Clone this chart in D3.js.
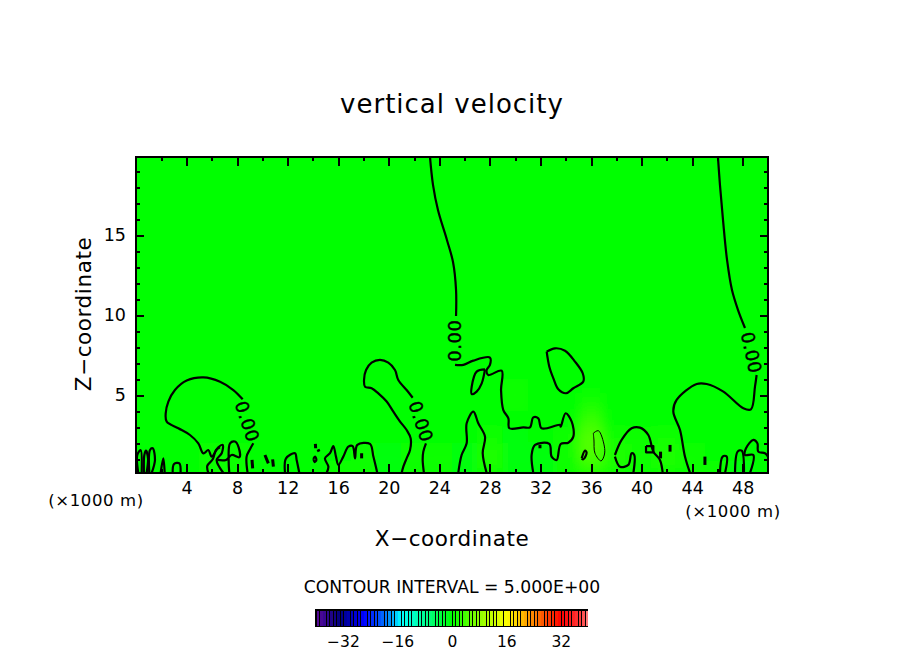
<!DOCTYPE html>
<html lang="en">
<head>
<meta charset="UTF-8">
<title>vertical velocity</title>
<script src="https://d3js.org/d3.v7.min.js"></script>
<style>
    body{ margin:0; background:#fff; }
    text{ font-family:"DejaVu Sans",sans-serif; fill:#000; }
    .contour{ fill:none; stroke:#000; stroke-width:2.2; stroke-linejoin:round; }
</style>
</head>
<body>
<div id="chart"></div>
<script>
// x in km, z in km
var xTicks = [4,8,12,16,20,24,28,32,36,40,44,48];
var xMinor = [2,6,10,14,18,22,26,30,34,38,42,46];
var zTicks = [5,10,15];
var zMinor = [1,2,3,4,6,7,8,9,11,12,13,14,16,17,18,19];
var barTicks = [-32,-16,0,16,32];

var fieldX = [0,2,4,6,8,10,12,14,16,18,20,22,24,26,28,30,32,34,36,38,40,42,44,46,48,50];
var fieldZ = [0.5,1.5,2.5,3.5,4.5,5.5];
var fieldW = [
    [0,0,0,0.7,0.7,0,0,0,0.7,0.7,-0.7,0.7,0.7,-0.7,1.5,-0.7,-1,0.5,3,1.5,0.7,1.5,0.7,0.7,-0.7,0],
    [0,0,0,0.7,0.7,0,0,0,0,0.7,-0.7,0.7,0.7,-0.7,1.5,-0.7,-0.7,0.7,4.5,1.5,0.7,1.5,0.7,0,0,0],
    [0,0,0,0,0,0,0,0,0,0,0,0,0,0,0.7,-0.5,0,0.7,4.5,0.7,0.7,0.7,0,0,0,0],
    [0,0,0,0,0,0,0,0,0,0,0,0,0,0,0,0,0,0,2.5,0,0,0,0,0,0,0],
    [0,0,0,0,0,0,0,0,0,0,0,0,0,0,0,0.7,0,0,1,0,0,0,0,0,0,0],
    [0,0,0,0,0,0,0,0,0,0,0,0,0,0,0,0.5,0,0,0,0,0,0,0,0,0,0]
];

// zero contour pieces
var contours = [
    [[23.26,19.87],[23.5,18.12],[23.89,16.56],[24.6,14.69],[25.08,13.31],[25.32,11.56],[25.32,9.94]],
    [[46.04,19.87],[46.2,18.12],[46.44,15.94],[46.76,13.44],[47.15,11.56],[47.63,10.31],[48.18,9.19]],
    [[8.44,4.73],[7.7,5.31],[6.65,5.83],[5.33,6.1],[4.01,5.9],[3.08,5.31],[2.56,4.58],[2.35,3.85],[2.43,3.33],[3.35,2.92],[4.27,2.5],[4.93,1.98],[5.33,1.35],[5.72,1.56],[5.99,1.15],[6.51,1.73],[6.86,1.88],[6.78,1.36],[6.38,0.94],[6.91,0.13]],
    [[21.89,4.83],[21.41,5.31],[20.75,5.94],[20.49,6.56],[19.96,7.02],[19.3,7.19],[18.64,7.02],[18.2,6.56],[18.04,5.94],[18.12,5.52],[18.64,5.42],[19.17,5.1],[19.83,4.59],[20.36,3.96],[20.89,3.34],[21.41,2.81],[21.73,2.29],[21.68,1.56],[21.41,1.04],[21.15,0.52],[21.02,0.13]],
    [[22.94,1.98],[22.73,1.46],[22.68,0.94],[22.78,0.13]],
    [[0.18,0.13],[0.1,1.25],[0.37,1.56],[0.45,0.13]],
    [[0.63,0.13],[0.66,1.25],[0.79,1.52],[0.95,1.04],[0.84,0.13]],
    [[1.05,0.13],[1.11,1.56],[1.32,1.67],[1.5,0.94],[1.24,0.13]],
    [[1.95,0.13],[2.16,1.04],[2.27,0.13]],
    [[2.9,0.13],[3.01,0.69],[3.43,0.73],[3.53,0.13]],
    [[5.72,0.13],[5.64,0.57],[6.07,0.98],[6.33,1.56],[6.65,1.73]],
    [[6.44,0.94],[7.12,0.94],[7.57,1.25],[8.18,1.11],[8.12,1.73],[7.83,2.09],[7.44,1.98],[7.33,0.94],[7.38,0.13]],
    [[8.83,0.13],[8.75,1.15],[9.02,1.61],[9.28,1.98]],
    [[9.18,0.94],[9.23,0.42]],
    [[10.2,1.25],[10.47,0.73]],
    [[10.81,0.98],[10.87,0.52]],
    [[11.79,0.13],[11.87,1.04],[12.58,1.36],[12.71,0.94],[12.92,0.13]],
    [[14.19,1.94],[14.21,1.67]],
    [[14.4,1.6],[14.48,1.46]],
    [[14.03,1],[14.16,1.15],[14.27,0.94],[14.13,0.81],[14.03,1]],
    [[15.08,0.13],[15.22,0.52],[14.95,1.04],[15.35,1.36],[15.61,1.81],[15.82,1.15],[16.01,0.63],[16.4,1.15],[16.8,1.77],[17.14,1.81],[17.33,1.04],[17.51,1.88],[18.51,1.94],[18.78,1.15],[19.09,0.13]],
    [[17.85,1.36],[17.85,1.04]],
    [[25.5,0.15],[25.76,1.25],[26.16,1.98],[26.16,3.23],[26.69,3.96],[27.08,3.23],[27.61,2.4],[27.43,1.36],[27.74,0.13]],
    [[25.24,6.88],[25.9,6.88],[26.69,7.15],[28,7.34],[28,6.88],[27.74,6.56],[27.87,6.25],[28.93,6.52],[28.88,5.31],[29.06,4.06],[29.46,3.54],[29.54,2.92],[30.64,2.98],[31.17,2.98],[31.43,3.6],[31.83,3.54],[32.09,2.92],[33.54,3.13],[33.6,3.02],[33.99,3.86],[34.47,3.34],[34.6,2.4],[34.2,2.02],[33.6,1.94],[33.28,0.94],[32.88,1.15],[32.7,1.94],[31.57,1.88],[31.3,1.25],[31.43,0.13]],
    [[27.61,6.6],[26.95,6.46],[26.56,5.52],[26.56,5.06],[26.95,5.21],[27.35,5.73],[27.61,6.6]],
    [[32.49,7.71],[33.15,7.92],[33.94,7.77],[34.73,7.09],[35.34,6.36],[35.39,5.84],[34.6,5.42],[34.02,5.11],[33.41,5.36],[33.02,6.04],[32.7,6.77],[32.49,7.71]],
    [[35.26,1.04],[35.52,1.52],[35.65,1.4],[35.39,0.98],[35.26,1.04]],
    [[37.89,1.25],[38.42,2.19],[39.21,2.92],[39.87,2.96],[40.53,2.5],[40.93,1.46],[41.45,0.94],[41.67,0.13]],
    [[37.89,1.15],[38.29,0.52],[38.95,0.63],[39.21,1.36],[39.42,1.25],[39.35,0.13]],
    [[42.25,1.88],[42.25,1.46]],
    [[41.5,1.46],[41.5,1.04]],
    [[45.01,1.15],[45.01,0.63]],
    [[31.96,1.88],[31.96,1.67]],
    [[43.83,0.13],[43.43,1.15],[43.04,2.81],[42.51,3.96],[42.77,4.69],[44.36,5.69],[45.15,5.69],[46.47,5.21],[48.05,4.17],[48.65,4.1],[48.97,5.52],[49.1,6.25]],
    [[46.2,0.13],[46.41,1.15],[46.73,1.15],[46.6,0.13]],
    [[47.39,0.13],[47.6,1.46],[47.92,1.52],[48.1,0.13]],
    [[48.58,0.13],[48.84,1.25],[48.18,1.25],[48.26,1.67],[48.84,2.19],[49.16,1.98],[49.23,1.46],[49.76,1.36],[50,1.15]]
];
// small square near x=40.6, kept straight
var contoursSquare = [
    [[40.35,1.81],[40.93,1.81],[40.93,1.42],[40.35,1.42],[40.35,1.81]]
];
// the one thin positive contour
var contoursPos = [
    [[36.18,2.61],[36.58,2.77],[37.05,1.81],[37.05,1.25],[36.79,0.88],[36.31,1.36],[36.23,2.19],[36.18,2.61]]
];
// where the 0.00 labels sit on the line: x, z, angle
var lineLabels = [
    [8.8,3.35,72],
    [22.55,3.35,72],
    [25.2,8.4,-90],
    [48.7,7.65,78]
];

var stopValues = [-40,-33,-26,-19,-15,-8,0,7,16,23,32,38,40];
var stopColors = ["#5a0a9a","#000080","#0000ff","#0080ff","#00ffff","#00ff90","#00ff00","#80ff00","#ffff00","#ff9000","#ff0000","#ff4040","#ff9090"];
var barValues = d3.range(-40,40);

var width = 904, height = 654;
var left = 136, right = 768, top_ = 157, bottom = 473;

var svg = d3.select("#chart").append("svg")
    .attr("width", width)
    .attr("height", height)
    .style("display","block");

var x = d3.scaleLinear().domain([0,50]).range([left,right]);
var z = d3.scaleLinear().domain([0.125,19.875]).range([bottom,top_]);
var color = d3.scaleLinear().domain(stopValues).range(stopColors);

var defs = svg.append("defs");
defs.append("clipPath").attr("id","plotClip").append("rect")
    .attr("x",left).attr("y",top_).attr("width",right-left).attr("height",bottom-top_);
defs.append("filter").attr("id","soft")
    .attr("x",-0.1).attr("y",-0.3).attr("width",1.2).attr("height",1.6)
    .append("feGaussianBlur").attr("stdDeviation","6 10");

// shading
svg.append("rect").attr("x",left).attr("y",top_).attr("width",right-left).attr("height",bottom-top_)
    .attr("fill",color(0));
var cells = [];
fieldW.forEach(function(row,j){
    row.forEach(function(w,i){
        if(w!=0) cells.push({x:fieldX[i],z:fieldZ[j],w:w});
    });
});
svg.append("g").attr("clip-path","url(#plotClip)")
    .append("g").attr("filter","url(#soft)")
    .selectAll("rect").data(cells).enter().append("rect")
    .attr("x",function(d){ return x(d.x-1); })
    .attr("y",function(d){ return z(d.z+0.5); })
    .attr("width",x(2)-x(0))
    .attr("height",z(0)-z(1))
    .attr("fill",function(d){ return color(d.w); });

// contours
var line = d3.line().x(function(d){ return x(d[0]); }).y(function(d){ return z(d[1]); });
var smooth = d3.line().x(function(d){ return x(d[0]); }).y(function(d){ return z(d[1]); })
    .curve(d3.curveCatmullRom.alpha(0.5));
var plot = svg.append("g").attr("clip-path","url(#plotClip)");
plot.selectAll(".c0").data(contours).enter().append("path")
    .attr("class","contour").attr("d",smooth)
    .style("stroke-width",function(d){ return d.length==2 ? 3 : null; });
plot.selectAll(".c2").data(contoursSquare).enter().append("path")
    .attr("class","contour").attr("d",line);
plot.selectAll(".c1").data(contoursPos).enter().append("path")
    .attr("class","contour").attr("d",smooth).style("stroke-width",1);

svg.selectAll(".lineLabel").data(lineLabels).enter().append("text")
    .attr("class","lineLabel")
    .attr("transform",function(d){ return "translate("+x(d[0])+","+z(d[1])+") rotate("+d[2]+")"; })
    .attr("text-anchor","middle").attr("dy","0.36em")
    .style("font-size","18px").style("letter-spacing","0.5px")
    .style("stroke","#000").style("stroke-width",0.4)
    .text("0.00");

// ticks on all four sides, pointing in
function styleAxis(g){
    g.select(".domain").remove();
    g.selectAll("line").attr("stroke","#000").attr("stroke-width",2).style("shape-rendering","crispEdges");
    g.selectAll("text").style("font-size","17.5px");
}
function noLabel(a){ return a.tickFormat(""); }

svg.append("g").attr("transform","translate(0,"+bottom+")")
    .call(d3.axisBottom(x).tickValues(xTicks).tickSizeInner(-9).tickSizeOuter(0).tickPadding(9)).call(styleAxis);
svg.append("g").attr("transform","translate(0,"+bottom+")")
    .call(noLabel(d3.axisBottom(x).tickValues(xMinor).tickSizeInner(-4).tickSizeOuter(0))).call(styleAxis);
svg.append("g").attr("transform","translate(0,"+top_+")")
    .call(noLabel(d3.axisTop(x).tickValues(xTicks).tickSizeInner(-9).tickSizeOuter(0))).call(styleAxis);
svg.append("g").attr("transform","translate(0,"+top_+")")
    .call(noLabel(d3.axisTop(x).tickValues(xMinor).tickSizeInner(-4).tickSizeOuter(0))).call(styleAxis);
svg.append("g").attr("transform","translate("+left+",0)")
    .call(d3.axisLeft(z).tickValues(zTicks).tickSizeInner(-8).tickSizeOuter(0).tickPadding(10)).call(styleAxis);
svg.append("g").attr("transform","translate("+left+",0)")
    .call(noLabel(d3.axisLeft(z).tickValues(zMinor).tickSizeInner(-4).tickSizeOuter(0))).call(styleAxis);
svg.append("g").attr("transform","translate("+right+",0)")
    .call(noLabel(d3.axisRight(z).tickValues(zTicks).tickSizeInner(-8).tickSizeOuter(0))).call(styleAxis);
svg.append("g").attr("transform","translate("+right+",0)")
    .call(noLabel(d3.axisRight(z).tickValues(zMinor).tickSizeInner(-4).tickSizeOuter(0))).call(styleAxis);

svg.append("rect").attr("x",left).attr("y",top_).attr("width",right-left).attr("height",bottom-top_)
    .attr("fill","none").attr("stroke","#000").attr("stroke-width",2);

// titles
function label(px,py,size,str,spacing){
    return svg.append("text").attr("x",px).attr("y",py)
        .attr("text-anchor","middle")
        .style("font-size",size+"px")
        .style("letter-spacing",(spacing||0)+"px")
        .text(str);
}
label(452,113,26,"vertical velocity",1);
label(452,546,21.5,"X\u2212coordinate",0.6);
label(96,506,16.5,"(\u00d71000 m)",0.6);
label(733,517,16.5,"(\u00d71000 m)",0.6);
label(452,593,17.2,"CONTOUR INTERVAL = 5.000E+00",0);
label(0,0,21.5,"Z\u2212coordinate",0.6).attr("x",null).attr("y",null)
    .attr("transform","translate(91,314) rotate(-90)");

// colour bar
var barLeft = 315, barRight = 588, barTop = 609, barBottom = 627;
var barX = d3.scaleLinear().domain([-40.2,40]).range([barLeft,barRight]);
svg.append("rect").attr("x",barLeft).attr("y",barTop).attr("width",barRight-barLeft).attr("height",barBottom-barTop)
    .attr("fill","#000");
svg.append("g").selectAll("rect").data(barValues).enter().append("rect")
    .attr("x",function(d){ return barX(d)+1; })
    .attr("y",barTop+1.5)
    .attr("width",barX(1)-barX(0)-0.8)
    .attr("height",barBottom-barTop-3)
    .attr("fill",function(d){ return color(d+0.5); })
    .style("shape-rendering","crispEdges");
svg.append("g").attr("transform","translate(0,"+barBottom+")")
    .call(d3.axisBottom(barX).tickValues(barTicks).tickSize(0).tickPadding(9)
        .tickFormat(function(d){ return String(d).replace("-","\u2212"); }))
    .call(function(g){
        g.select(".domain").remove();
        g.selectAll("text").style("font-size","15.5px");
    });
</script>
</body>
</html>
